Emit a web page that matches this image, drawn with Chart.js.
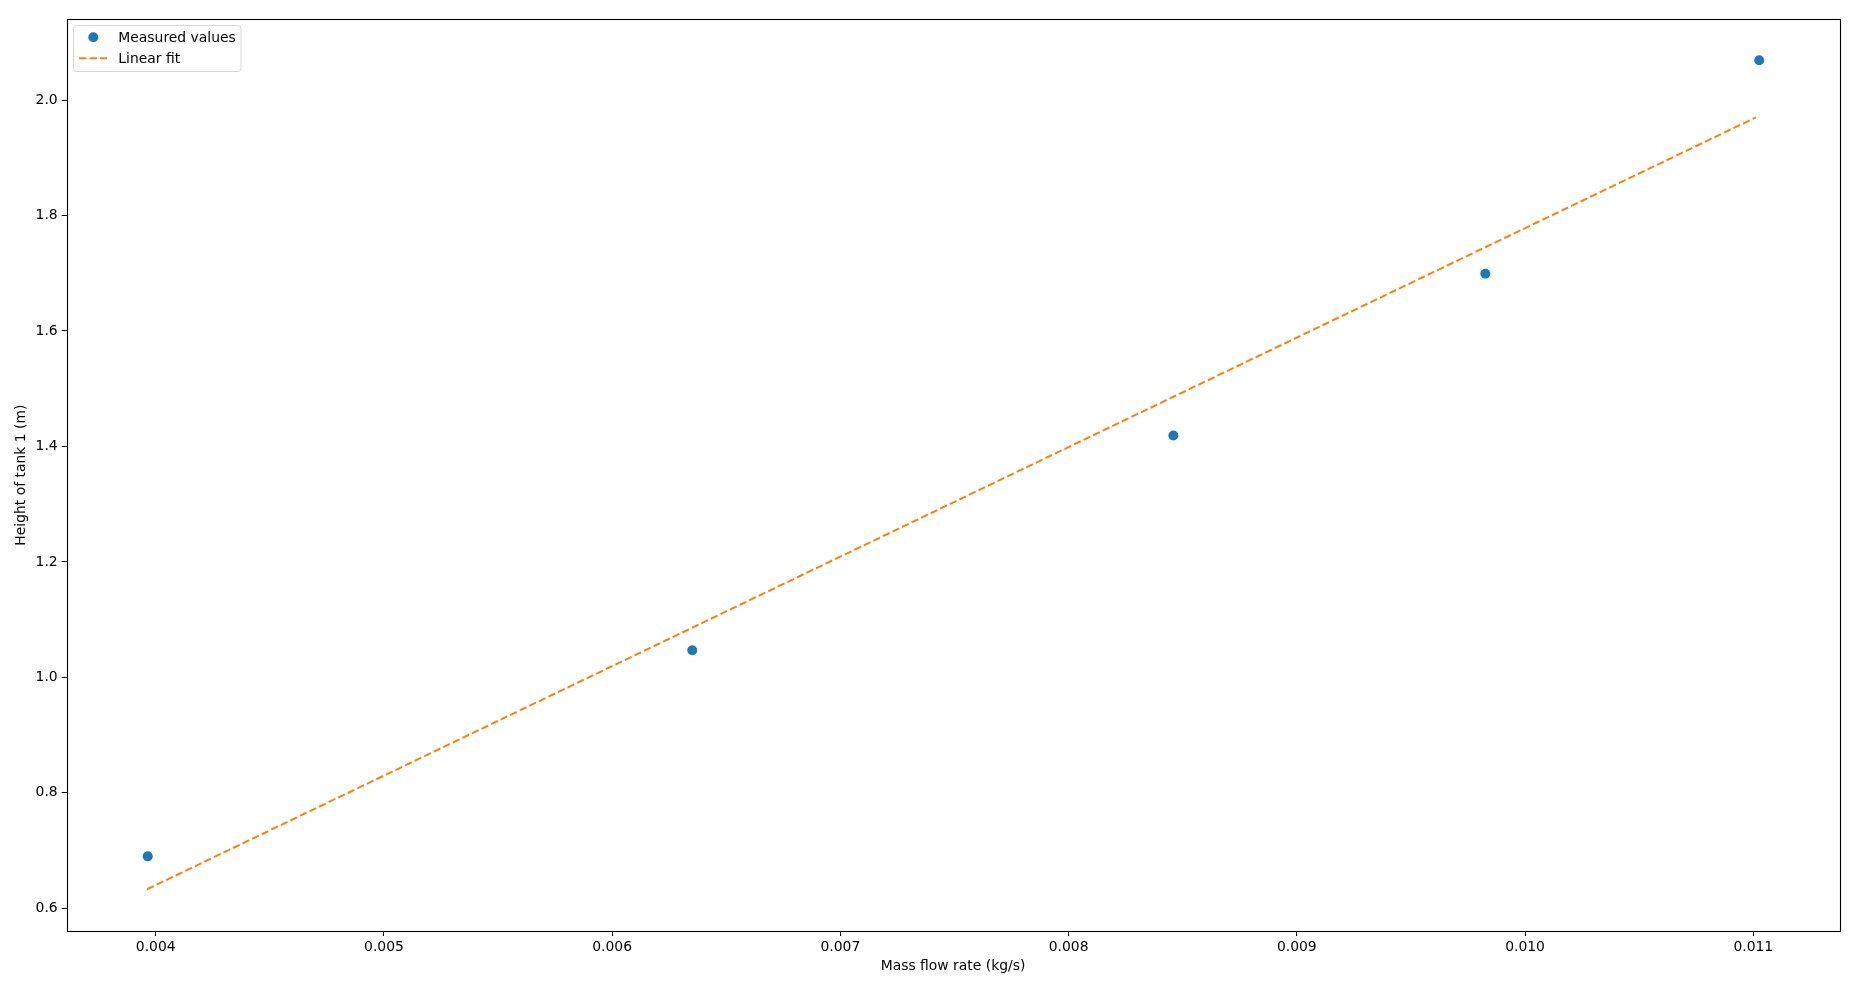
<!DOCTYPE html>
<html>
<head>
<meta charset="utf-8">
<script src="https://cdn.jsdelivr.net/npm/chart.js@4.4.1/dist/chart.umd.min.js"></script>
<style>
  html, body { margin: 0; padding: 0; background: #ffffff; }
  #wrap { width: 1857px; height: 989px; position: relative; }
</style>
</head>
<body>
<div id="wrap"><canvas id="c"></canvas></div>
<script>
// ---- data ----
const massFlow = [0.003965, 0.006351, 0.008459, 0.009826, 0.011026];
const measuredHeight = [0.690, 1.047, 1.419, 1.699, 2.069];
const fitMassFlow = [0.003962, 0.006351, 0.008459, 0.009826, 0.011012];
const fitHeight = [0.633, 1.086, 1.486, 1.745, 1.970];
const xTickValues = [0.004, 0.005, 0.006, 0.007, 0.008, 0.009, 0.010, 0.011];
const xTickLabels = ['0.004', '0.005', '0.006', '0.007', '0.008', '0.009', '0.010', '0.011'];
const yTickValues = [0.6, 0.8, 1.0, 1.2, 1.4, 1.6, 1.8, 2.0];
const yTickLabels = ['0.6', '0.8', '1.0', '1.2', '1.4', '1.6', '1.8', '2.0'];
const seriesLabels = ['Measured values', 'Linear fit'];
const xTitle = 'Mass flow rate (kg/s)';
const yTitle = 'Height of tank 1 (m)';

const FONT = 'DejaVu Sans';
const FSIZE = 13.9;
const BLUE = '#1f77b4';
const ORANGE = '#ff7f0e';

const framePlugin = {
  id: 'frame',
  afterDatasetsDraw(chart) {
    const a = chart.chartArea;
    const ctx = chart.ctx;
    ctx.save();
    ctx.strokeStyle = '#000';
    ctx.lineWidth = 1.1;
    ctx.strokeRect(Math.round(a.left) + 0.5, Math.round(a.top) + 0.5,
                   Math.round(a.right - a.left), Math.round(a.bottom - a.top));
    ctx.restore();
  }
};

const legendPlugin = {
  id: 'boxLegend',
  afterDraw(chart) {
    const ctx = chart.ctx;
    const ds = chart.data.datasets;
    const x0 = 73.5, y0 = 25.5, w = 167.5, h = 46;
    ctx.save();
    const r = 3;
    ctx.beginPath();
    ctx.moveTo(x0 + r, y0);
    ctx.lineTo(x0 + w - r, y0);
    ctx.quadraticCurveTo(x0 + w, y0, x0 + w, y0 + r);
    ctx.lineTo(x0 + w, y0 + h - r);
    ctx.quadraticCurveTo(x0 + w, y0 + h, x0 + w - r, y0 + h);
    ctx.lineTo(x0 + r, y0 + h);
    ctx.quadraticCurveTo(x0, y0 + h, x0, y0 + h - r);
    ctx.lineTo(x0, y0 + r);
    ctx.quadraticCurveTo(x0, y0, x0 + r, y0);
    ctx.closePath();
    ctx.fillStyle = 'rgba(255,255,255,0.8)';
    ctx.fill();
    ctx.strokeStyle = '#d6d6d6';
    ctx.lineWidth = 1;
    ctx.stroke();
    // item 1: marker
    ctx.fillStyle = ds[0].backgroundColor;
    ctx.beginPath();
    ctx.arc(93.3, 37.3, 5, 0, Math.PI * 2);
    ctx.fill();
    // item 2: dashed line
    ctx.strokeStyle = ds[1].borderColor;
    ctx.lineWidth = 2;
    ctx.setLineDash(ds[1].borderDash);
    ctx.beginPath();
    ctx.moveTo(79, 58.3);
    ctx.lineTo(107, 58.3);
    ctx.stroke();
    ctx.setLineDash([]);
    // labels
    ctx.fillStyle = '#000';
    ctx.font = FSIZE + 'px "' + FONT + '"';
    ctx.textBaseline = 'middle';
    ctx.textAlign = 'left';
    ctx.fillText(ds[0].label, 118.3, 38.3);
    ctx.fillText(ds[1].label, 118.3, 59.3);
    ctx.restore();
  }
};

const measuredPts = massFlow.map((x, i) => ({ x: x, y: measuredHeight[i] }));
const fitPts = fitMassFlow.map((x, i) => ({ x: x, y: fitHeight[i] }));

new Chart(document.getElementById('c'), {
  type: 'scatter',
  data: {
    datasets: [
      {
        label: seriesLabels[0],
        data: measuredPts,
        backgroundColor: BLUE,
        borderColor: BLUE,
        pointRadius: 5,
        pointBorderWidth: 0,
        showLine: false,
        order: 1
      },
      {
        label: seriesLabels[1],
        type: 'line',
        data: fitPts,
        borderColor: ORANGE,
        backgroundColor: ORANGE,
        borderWidth: 2,
        borderDash: [7.4, 3.2],
        pointRadius: 0,
        fill: false,
        tension: 0,
        order: 2
      }
    ]
  },
  options: {
    responsive: true,
    maintainAspectRatio: false,
    animation: false,
    devicePixelRatio: 1,
    layout: { padding: { left: 0, right: 17.7, top: 19.3, bottom: 0 } },
    plugins: {
      legend: { display: false },
      tooltip: { enabled: false }
    },
    scales: {
      x: {
        type: 'linear',
        position: 'bottom',
        min: 0.00361,
        max: 0.011377,
        afterBuildTicks(scale) { scale.ticks = xTickValues.map(v => ({ value: v })); },
        afterFit(scale) { scale.height = 58; },
        grid: {
          drawOnChartArea: false,
          drawTicks: true,
          tickLength: 5,
          tickColor: '#000',
          tickWidth: 1
        },
        border: { display: false },
        ticks: {
          color: '#000',
          font: { family: FONT, size: FSIZE },
          padding: 3,
          maxRotation: 0,
          autoSkip: false,
          callback: (v, i) => xTickLabels[i]
        },
        title: {
          display: true,
          text: xTitle,
          color: '#000',
          font: { family: FONT, size: FSIZE },
          padding: { top: 0, bottom: 14.2 }
        }
      },
      y: {
        type: 'linear',
        position: 'left',
        min: 0.5607,
        max: 2.1398,
        afterBuildTicks(scale) { scale.ticks = yTickValues.map(v => ({ value: v })); },
        afterFit(scale) { scale.width = 66.7; },
        grid: {
          drawOnChartArea: false,
          drawTicks: true,
          tickLength: 5,
          tickColor: '#000',
          tickWidth: 1
        },
        border: { display: false },
        ticks: {
          color: '#000',
          font: { family: FONT, size: FSIZE },
          padding: 4,
          autoSkip: false,
          callback: (v, i) => yTickLabels[i]
        },
        title: {
          display: true,
          text: yTitle,
          color: '#000',
          font: { family: FONT, size: FSIZE },
          padding: { top: 13.4, bottom: 0 }
        }
      }
    }
  },
  plugins: [framePlugin, legendPlugin]
});
</script>
</body>
</html>
